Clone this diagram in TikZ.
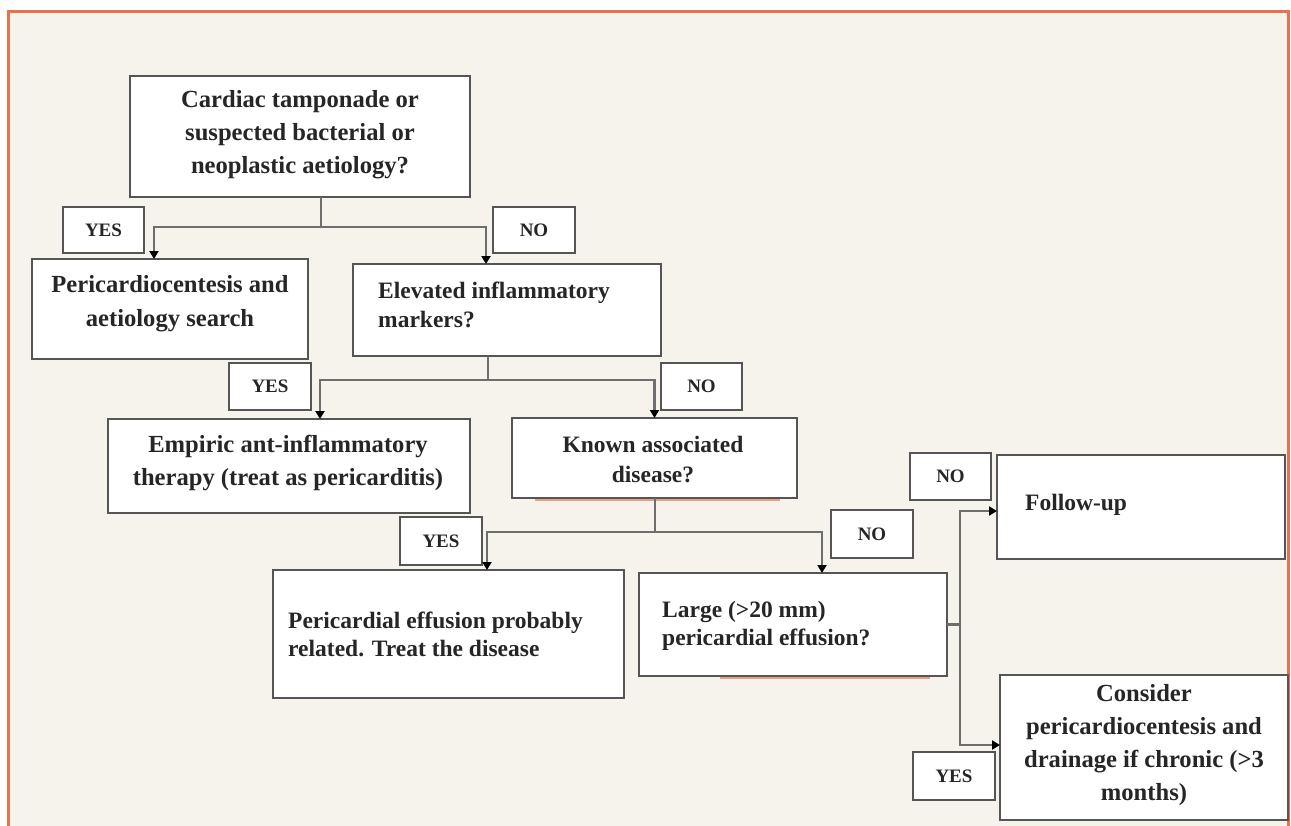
\documentclass[tikz,border=0pt]{standalone}
\usepackage{fontspec}
\setmainfont{Liberation Serif}
\usetikzlibrary{arrows.meta}
\definecolor{bg}{HTML}{F6F2EC}
\definecolor{frameclr}{HTML}{E8714E}
\definecolor{boxline}{HTML}{555555}
\definecolor{connclr}{HTML}{6E6E6E}
\definecolor{faintred}{HTML}{E6A08C}
\begin{document}
\begin{tikzpicture}[x=1pt,y=-1pt,
  box/.style={draw=boxline, line width=1.8pt, fill=white, anchor=north west, inner sep=0pt, outer sep=0pt},
  lab/.style={box, font=\fontsize{19}{20}\selectfont\bfseries, text=black!85},
  txt/.style={font=\fontsize{23.5}{#1}\selectfont\bfseries, inner sep=0pt, text=black!85},
  txt/.default=33,
  big/.style={font=\fontsize{24.6}{#1}\selectfont\bfseries},
  big/.default=33,
  conn/.style={draw=connclr, line width=2.4pt},
  arr/.style={conn, -{Triangle[width=9pt,length=8pt,color=black]}}
]
\useasboundingbox (0,0) rectangle (1291,825);
\fill[white] (0,0) rectangle (1291,825);
\fill[bg] (8,11) rectangle (1288,840);
\draw[frameclr, line width=3pt] (8,840) -- (8,11) -- (1288,11) -- (1288,840);

% boxes
\node[box, minimum width=340pt, minimum height=121pt] (q1) at (130,76) {};
\node[box, minimum width=276pt, minimum height=100pt] (a1) at (32,259) {};
\node[box, minimum width=308pt, minimum height=92pt]  (q2) at (353,264) {};
\node[box, minimum width=362pt, minimum height=94pt]  (a2) at (108,419) {};
\node[box, minimum width=285pt, minimum height=80pt]  (q3) at (512,418) {};
\node[box, minimum width=351pt, minimum height=128pt] (a3) at (273,570) {};
\node[box, minimum width=308pt, minimum height=103pt] (q4) at (639,573) {};
\node[box, minimum width=288pt, minimum height=104pt] (a4) at (997,455) {};
\node[box, minimum width=288pt, minimum height=145pt] (a5) at (1000,675) {};

% faint red lines under two boxes
\draw[faintred, line width=1.2pt] (535,500) -- (780,500);
\draw[faintred, line width=1.2pt] (720,678) -- (930,678);

% labels
\node[lab, minimum width=81pt, minimum height=46pt] (y1) at (63,207) {YES};
\node[lab, minimum width=82pt, minimum height=46pt] (n1) at (493,207) {NO};
\node[lab, minimum width=82pt, minimum height=47pt] (y2) at (229,363) {YES};
\node[lab, minimum width=81pt, minimum height=47pt] (n2) at (661,363) {NO};
\node[lab, minimum width=82pt, minimum height=48pt] (y3) at (400,517) {YES};
\node[lab, minimum width=82pt, minimum height=48pt] (n3) at (831,510) {NO};
\node[lab, minimum width=81pt, minimum height=47pt] (n4) at (910,453) {NO};
\node[lab, minimum width=82pt, minimum height=48pt] (y4) at (913,752) {YES};

% texts
\node[txt, big, align=center] (t1) at (300,135) {Cardiac tamponade or\\suspected bacterial or\\neoplastic aetiology?};
\node[txt, big=34, align=center] (ta1) at (170,303.5) {Pericardiocentesis and\\aetiology search};
\node[txt=29, align=left, anchor=west] (tq2) at (378,304.5) {Elevated inflammatory\\markers?};
\node[txt, big, align=center] (ta2) at (288,463) {Empiric ant-inflammatory\\therapy (treat as pericarditis)};
\node[txt=30, align=center] (tq3) at (653,460) {Known associated\\disease?};
\node[txt=28, align=left, anchor=west] (ta3) at (288,634) {Pericardial effusion probably\\related. Treat the disease};
\node[txt=28, align=left, anchor=west] (tq4) at (662,625.5) {Large (>20 mm)\\pericardial effusion?};
\node[txt, anchor=west] (ta4) at (1025,504.5) {Follow-up};
\node[txt, big, align=center] (ta5) at (1144,745) {Consider\\pericardiocentesis and\\drainage if chronic (>3\\months)};

% junctions
\coordinate (j1) at (321,227);
\coordinate (j2) at (488,380);
\coordinate (j3) at (655,532);
\coordinate (j4) at (960,625);

% connectors
\draw[conn] (j1 |- q1.south) -- (j1);
\draw[arr] (j1) -| ([xshift=-16pt]a1.north);
\draw[arr] (j1) -| ([xshift=-21pt]q2.north);

\draw[conn] (j2 |- q2.south) -- (j2);
\draw[arr] (j2) -| ([xshift=31pt]a2.north);
\draw[arr] (j2) -| (q3.north);

\draw[conn] (j3 |- q3.south) -- (j3);
\draw[arr] (j3) -| ([xshift=38.5pt]a3.north);
\draw[arr] (j3) -| ([xshift=29pt]q4.north);

\draw[conn] (q4.east) -- (q4.east -| j4);
\draw[arr] (q4.east -| j4) |- ([yshift=-4pt]a4.west);
\draw[arr] (q4.east -| j4) |- ([yshift=2.5pt]a5.west);
\end{tikzpicture}
\end{document}
